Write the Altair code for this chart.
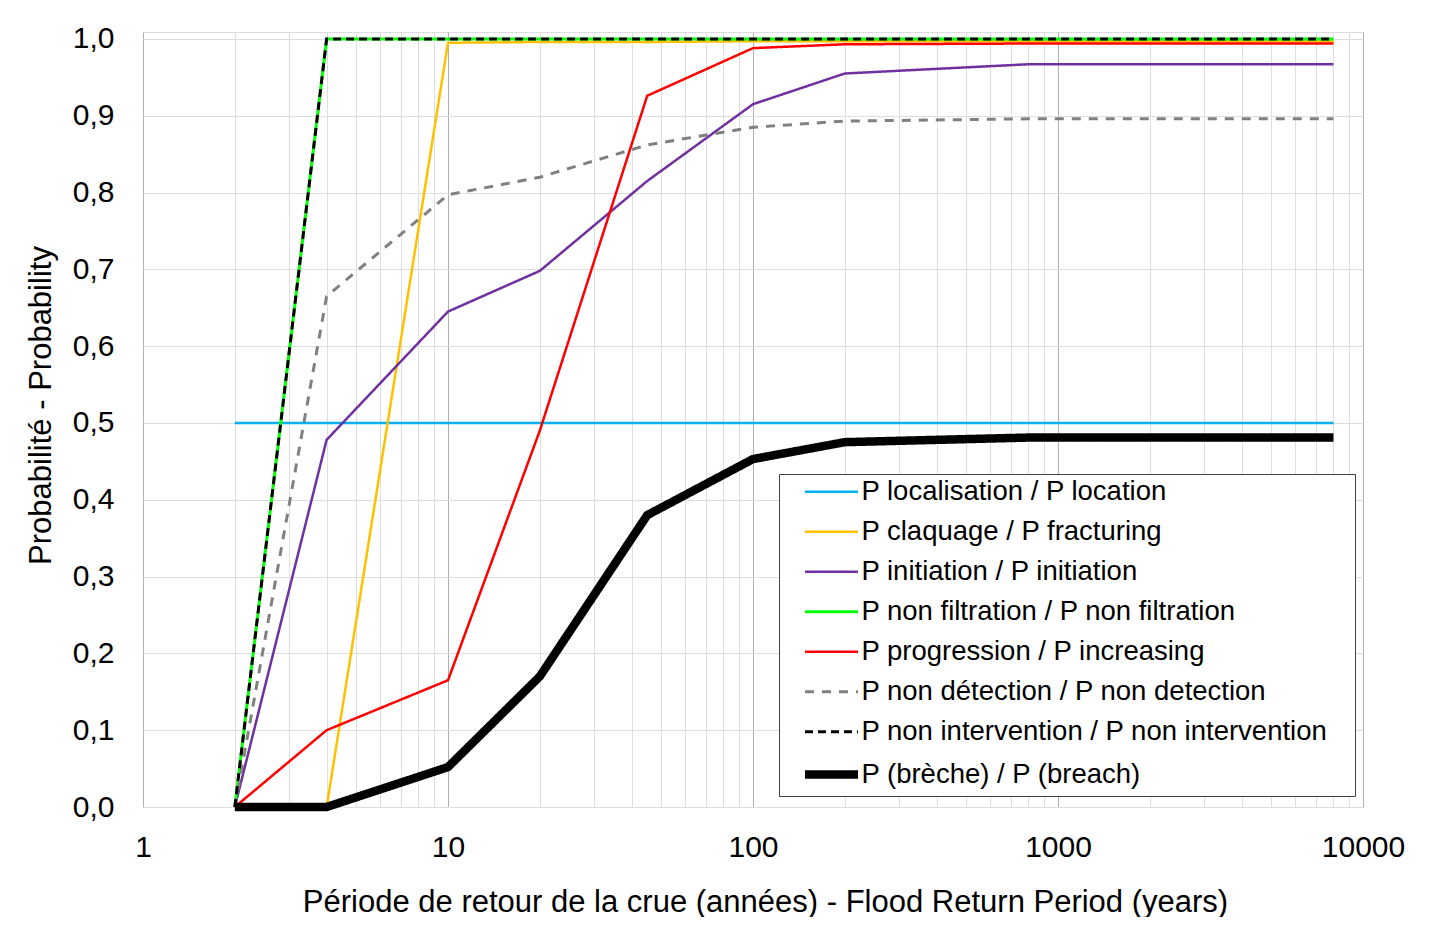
import altair as alt
import pandas as pd

# Flood return periods (years)
periods = [2, 4, 10, 20, 45, 100, 200, 800, 8000]

series_names = [
    "P localisation / P location",
    "P claquage / P fracturing",
    "P initiation / P initiation",
    "P non filtration / P non filtration",
    "P progression / P increasing",
    "P non détection / P non detection",
    "P non intervention / P non intervention",
    "P (brèche) / P (breach)",
]

p_localisation = [0.5, 0.5, 0.5, 0.5, 0.5, 0.5, 0.5, 0.5, 0.5]
p_claquage = [0.0, 0.0, 0.995, 0.996, 0.996, 0.997, 0.997, 0.997, 0.997]
p_initiation = [0.0, 0.478, 0.645, 0.698, 0.815, 0.915, 0.955, 0.967, 0.967]
p_non_filtration = [0.0, 1.0, 1.0, 1.0, 1.0, 1.0, 1.0, 1.0, 1.0]
p_progression = [0.0, 0.100, 0.165, 0.490, 0.926, 0.988, 0.993, 0.994, 0.994]
p_non_detection = [0.0, 0.665, 0.797, 0.820, 0.862, 0.885, 0.893, 0.896, 0.896]
p_non_intervention = [0.0, 1.0, 1.0, 1.0, 1.0, 1.0, 1.0, 1.0, 1.0]
p_breche = [0.0, 0.0, 0.052, 0.170, 0.380, 0.453, 0.475, 0.481, 0.481]

all_series = [p_localisation, p_claquage, p_initiation, p_non_filtration,
              p_progression, p_non_detection, p_non_intervention, p_breche]

colors = ["#00B0F0", "#FFC000", "#7030A0", "#00FF00", "#FF0000", "#808080", "#000000", "#000000"]
dashes = [[1, 0], [1, 0], [1, 0], [1, 0], [1, 0], [9, 8], [8, 5], [1, 0]]
widths = [2.5, 2.5, 2.5, 3, 2.5, 3, 3, 8.5]

x_grid_values = [1, 2, 3, 4, 5, 6, 7, 8, 9,
                 10, 20, 30, 40, 50, 60, 70, 80, 90,
                 100, 200, 300, 400, 500, 600, 700, 800, 900,
                 1000, 2000, 3000, 4000, 5000, 6000, 7000, 8000, 9000, 10000]
y_tick_values = [0.0, 0.1, 0.2, 0.3, 0.4, 0.5, 0.6, 0.7, 0.8, 0.9, 1.0]

rows = []
for order, (name, vals) in enumerate(zip(series_names, all_series)):
    for x, v in zip(periods, vals):
        rows.append({"series": name, "period": x, "prob": v, "order": order})
df = pd.DataFrame(rows)

FONT = "Liberation Sans"
# invisible trailing spacing (NBSPs kept from trimming by a zero-width space)
PAD = "\u00a0\u00a0\u00a0\u200b"

legend = alt.Legend(
    title=None,
    orient="none",
    legendX=636,
    legendY=442,
    padding=4,
    strokeColor="#404040",
    fillColor="white",
    labelFont=FONT,
    labelFontSize=27.5,
    labelColor="black",
    labelLimit=800,
    labelOffset=15.5,
    labelExpr="datum.label + '" + PAD + "'",
    symbolType="M-2.65,0H2.65",
    symbolSize=400,
    symbolOffset=34,
    rowPadding=11,
)

x_axis = alt.Axis(
    title="Période de retour de la crue (années) - Flood Return Period (years)",
    values=x_grid_values,
    labelExpr="indexof([1,10,100,1000,10000], datum.value) >= 0 ? format(datum.value, 'd') : ''",
    labelFont=FONT,
    labelFontSize=30,
    labelColor="black",
    labelPadding=25,
    labelFlush=False,
    labelOverlap=False,
    ticks=False,
    domain=False,
    grid=True,
    gridColor={"condition": {"test": "indexof([1,10,100,1000,10000], datum.value) >= 0",
                             "value": "#b0b0b0"},
               "value": "#dedede"},
    gridWidth=1,
    titleFont=FONT,
    titleFontSize=31,
    titleFontWeight="normal",
    titleColor="black",
    titleX=622,
    titleY=95,
    titleAlign="center",
    titleBaseline="middle",
)

y_axis = alt.Axis(
    title="Probabilité - Probability",
    values=y_tick_values,
    labelExpr="replace(format(datum.value, '.1f'), '.', ',')",
    labelFont=FONT,
    labelFontSize=30,
    labelColor="black",
    labelPadding=29,
    labelFlush=False,
    ticks=False,
    domain=False,
    grid=True,
    gridColor="#dedede",
    gridWidth=1,
    titleFont=FONT,
    titleFontSize=31,
    titleFontWeight="normal",
    titleColor="black",
    titleAngle=-90,
    titleX=-102,
    titleY=373,
    titleAlign="center",
    titleBaseline="middle",
)

chart = alt.Chart(df).mark_line(strokeJoin="miter", strokeCap="butt").encode(
    x=alt.X("period:Q", scale=alt.Scale(type="log", domain=[1, 10000], nice=False), axis=x_axis),
    y=alt.Y("prob:Q", scale=alt.Scale(domain=[0, 1.009], nice=False, zero=False), axis=y_axis),
    color=alt.Color("series:N", scale=alt.Scale(domain=series_names, range=colors), legend=legend),
    strokeDash=alt.StrokeDash("series:N", scale=alt.Scale(domain=series_names, range=dashes), legend=legend),
    strokeWidth=alt.StrokeWidth("series:O", scale=alt.Scale(type="ordinal", domain=series_names, range=widths),
                                legend=legend),
    order=alt.Order("order:Q"),
).properties(
    width=1220,
    height=775,
    autosize=alt.AutoSizeParams(type="none"),
    padding={"left": 135, "top": 24, "right": 60, "bottom": 110},
).configure_view(
    stroke="#808080",
    strokeWidth=1.2,
).configure(
    background="white",
)

chart.save("out.html", embed_options={"renderer": "svg", "actions": False})
